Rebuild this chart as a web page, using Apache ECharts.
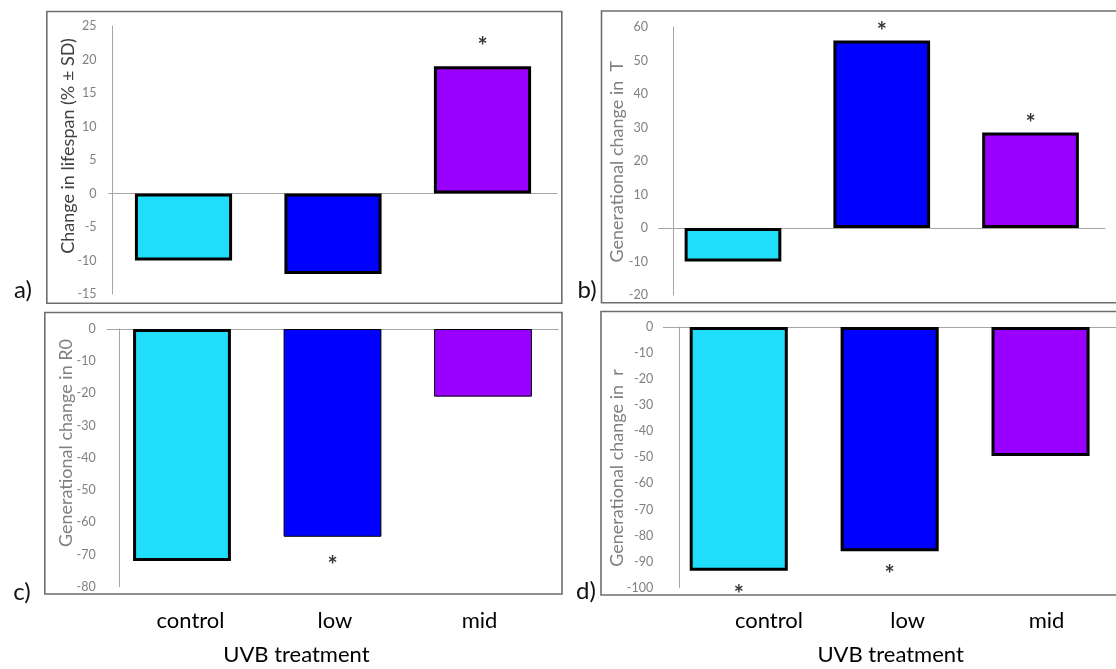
<!DOCTYPE html>
<html><head><meta charset="utf-8">
<script src="https://cdn.jsdelivr.net/npm/echarts@6/dist/echarts.min.js"></script>
<style>html,body{margin:0;padding:0;background:#fff}#c{width:1116px;height:669px}</style>
</head><body><div id="c"></div>
<script>
// ---- data ----
const categories = ['control', 'low', 'mid'];
const lifespanChange = [-10, -12, 19];      // a) % change in lifespan
const changeT = [-10, 56, 28.5];            // b) generational change in T
const changeR0 = [-72, -64.5, -21];         // c) generational change in R0
const changeR = [-93.5, -86, -49.5];        // d) generational change in r
const sigA = [false, false, true];
const sigB = [false, true, true];
const sigC = [false, true, false];
const sigD = [true, true, false];
const rangeA = [-15, 25, 5];
const rangeB = [-20, 60, 10];
const rangeC = [-80, 0, 10];
const rangeD = [-100, 0, 10];
const yTitles = ['Change in lifespan (% \u00b1 SD)', 'Generational change in  T', 'Generational change in R0', 'Generational change in  r'];
const panelLetters = ['a)', 'b)', 'c)', 'd)'];
const xTitle = 'UVB treatment';

// ---- styling / layout ----
const colors = ['#21DDFC', '#0000FF', '#9900FF'];
const FONT = 'Lato, Carlito, "Open Sans", sans-serif';
const panels = [
  {vals: lifespanChange, sig: sigA, range: rangeA, grid: {left: 108.75, top: 26, width: 448.5, height: 268}, off: -3.3, margin: 15.5, star: 7,
   border: [3, 3, 3]},
  {vals: changeT, sig: sigB, range: rangeB, grid: {left: 658.6, top: 27, width: 446.3, height: 268}, off: -14.4, margin: 25, star: -4,
   border: [3, 3, 3]},
  {vals: changeR0, sig: sigC, range: rangeC, grid: {left: 106.75, top: 329, width: 451.5, height: 257.7}, off: -12.5, margin: 23.6, star: 17,
   border: [3, 1, 1]},
  {vals: changeR, sig: sigD, range: rangeD, grid: {left: 663.3, top: 327, width: 458.4, height: 260.7}, off: -15.9, margin: 26, star: 12.5,
   border: [3, 3, 3]}
];

const grids = [], xAxes = [], yAxes = [], series = [];
panels.forEach((p, i) => {
  grids.push(Object.assign({containLabel: false}, p.grid));
  xAxes.push({
    type: 'category', gridIndex: i, data: categories,
    axisLine: {show: true, onZero: true, lineStyle: {color: '#a6a6a6', width: 1}},
    axisTick: {show: false}, axisLabel: {show: false}, splitLine: {show: false}
  });
  yAxes.push({
    type: 'value', gridIndex: i, min: p.range[0], max: p.range[1], interval: p.range[2],
    offset: p.off,
    axisLine: {show: true, lineStyle: {color: '#a6a6a6', width: 1}},
    axisTick: {show: false}, splitLine: {show: false},
    axisLabel: {color: '#808080', fontSize: 12.5, fontFamily: FONT, margin: p.margin}
  });
  series.push({
    type: 'bar', xAxisIndex: i, yAxisIndex: i, barCategoryGap: '35%',
    data: p.vals.map((v, j) => ({value: v, itemStyle: {color: colors[j], borderColor: '#000', borderWidth: p.border[j]}})),
    silent: true, animation: false
  });
  series.push({
    type: 'scatter', xAxisIndex: i, yAxisIndex: i, symbolSize: 0, silent: true, animation: false,
    data: p.vals.map((v, j) => p.sig[j] ? {value: v, label: {position: v >= 0 ? 'top' : 'bottom'}} : '-'),
    label: {show: true, formatter: '*', distance: p.star, color: '#000', fontSize: 24, fontWeight: 'bold', lineHeight: 24, fontFamily: FONT}
  });
});

// category label grids for bottom panels
const labelGrids = [{left: 118.25, top: 590, width: 433.5, height: 10}, {left: 699.5, top: 590, width: 434.4, height: 10}];
labelGrids.forEach((g) => {
  const gi = grids.length;
  grids.push(g);
  xAxes.push({
    type: 'category', gridIndex: gi, data: categories,
    axisLine: {show: false}, axisTick: {show: false}, splitLine: {show: false},
    axisLabel: {color: '#000', fontSize: 22, fontFamily: FONT, margin: 10}
  });
  yAxes.push({type: 'value', gridIndex: gi, show: false, min: 0, max: 1});
});

// ---- frame, titles and letters ----
const boxStyle = {fill: 'none', stroke: '#6e6e6e', lineWidth: 1.6};
const graphic = [
  {type: 'rect', shape: {x: 46.8, y: 11.5, width: 515, height: 291.8}, style: boxStyle, silent: true},
  {type: 'rect', shape: {x: 601.5, y: 11, width: 540, height: 291.7}, style: boxStyle, silent: true},
  {type: 'rect', shape: {x: 44.8, y: 312.5, width: 517.2, height: 281.5}, style: boxStyle, silent: true},
  {type: 'rect', shape: {x: 601, y: 311.5, width: 540, height: 283.5}, style: boxStyle, silent: true}
];
const titlePos = [[68, 146, '#404040'], [616.7, 161.7, '#808080'], [66, 443, '#808080'], [616.7, 468, '#808080']];
titlePos.forEach((t, i) => {
  graphic.push({type: 'text', x: t[0], y: t[1], rotation: Math.PI / 2, silent: true,
    style: {text: yTitles[i], fill: t[2], font: '18px ' + FONT, textAlign: 'center', textVerticalAlign: 'middle'}});
});
const letterPos = [[23, 290], [587, 290], [22, 592], [586, 591]];
letterPos.forEach((l, i) => {
  graphic.push({type: 'text', x: l[0], y: l[1], silent: true,
    style: {text: panelLetters[i], fill: '#111', font: '24px ' + FONT, textAlign: 'center', textVerticalAlign: 'middle'}});
});
[[296.4, 655], [890.6, 655]].forEach((p) => {
  graphic.push({type: 'text', x: p[0], y: p[1], silent: true,
    style: {text: xTitle, fill: '#000', font: '22px ' + FONT, textAlign: 'center', textVerticalAlign: 'middle'}});
});

const chart = echarts.init(document.getElementById('c'), null, {renderer: 'canvas'});
chart.setOption({
  animation: false,
  backgroundColor: '#fff',
  grid: grids, xAxis: xAxes, yAxis: yAxes, series: series, graphic: graphic
});
</script></body></html>
